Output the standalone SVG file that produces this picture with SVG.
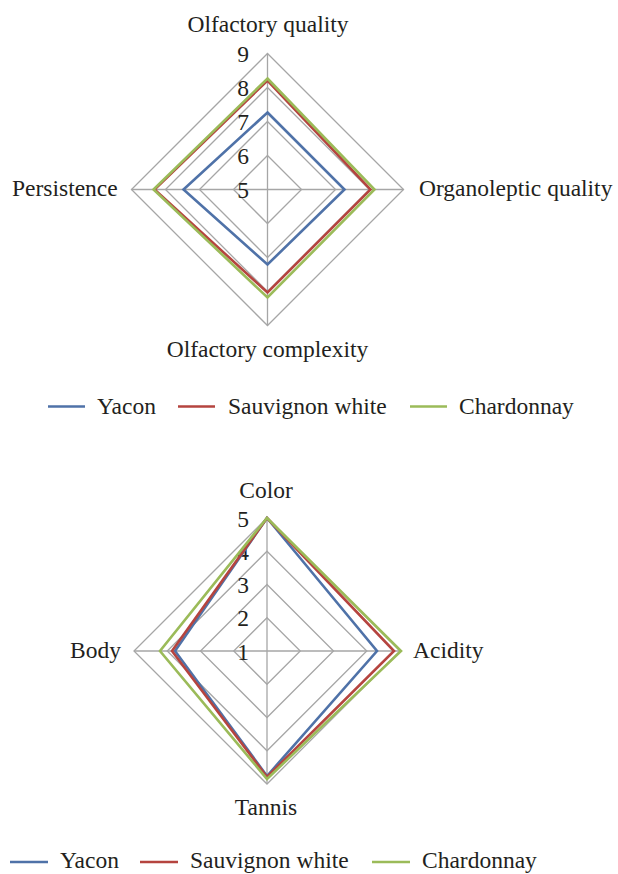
<svg xmlns="http://www.w3.org/2000/svg" width="618" height="874" viewBox="0 0 618 874">
<style>
text{font-family:"Liberation Serif","Times New Roman",serif;font-size:23.5px;fill:#231f20}
.grid{fill:none;stroke:#a6a6a6;stroke-width:1.3}
.s{fill:none;stroke-width:2.6;stroke-linejoin:miter}
.y{stroke:#4f72a8}
.r{stroke:#b5443f}
.g{stroke:#9bbb59}
.num{text-anchor:end}
.mid{text-anchor:middle}
</style>
<rect width="618" height="874" fill="#ffffff"/>
<g id="chart1">
<g id="grid1">
<polygon class="grid" points="267.5,155.5 301.5,189.5 267.5,223.5 233.5,189.5"/>
<polygon class="grid" points="267.5,121.5 335.5,189.5 267.5,257.5 199.5,189.5"/>
<polygon class="grid" points="267.5,87.5 369.5,189.5 267.5,291.5 165.5,189.5"/>
<polygon class="grid" points="267.5,53.5 403.5,189.5 267.5,325.5 131.5,189.5"/>
<line class="grid" x1="267.5" y1="53.5" x2="267.5" y2="325.5"/>
<line class="grid" x1="131.5" y1="189.5" x2="403.5" y2="189.5"/>
</g>
<g id="ticks1">
<text class="num" x="249" y="61.5">9</text>
<text class="num" x="249" y="95.5">8</text>
<text class="num" x="249" y="129.5">7</text>
<text class="num" x="249" y="163.5">6</text>
<text class="num" x="249" y="197.5">5</text>
</g>
<g id="series1">
<polygon class="s y" points="267.5,112.5 344.5,189.5 267.5,264.5 183.5,189.5"/>
<polygon class="s r" points="267.5,80.5 370.5,189.5 267.5,292.5 154.5,189.5"/>
<polygon class="s g" points="267.5,78.5 374.5,189.5 267.5,297.5 153.5,189.5"/>
</g>
<g id="axislabels1">
<text class="mid" x="268" y="31.5">Olfactory quality</text>
<text x="419" y="195.5">Organoleptic quality</text>
<text x="12" y="195.5">Persistence</text>
<text class="mid" x="267.5" y="357">Olfactory complexity</text>
</g>
<g id="legend1">
<line class="s y" x1="48" y1="406.5" x2="85" y2="406.5"/>
<text x="97" y="413.5">Yacon</text>
<line class="s r" x1="178" y1="406.5" x2="215" y2="406.5"/>
<text x="228" y="413.5">Sauvignon white</text>
<line class="s g" x1="410" y1="406.5" x2="447" y2="406.5"/>
<text x="459" y="413.5">Chardonnay</text>
</g>
</g>
<g id="chart2">
<g id="grid2">
<polygon class="grid" points="267,617.75 300.25,651 267,684.25 233.75,651"/>
<polygon class="grid" points="267,584.5 333.5,651 267,717.5 200.5,651"/>
<polygon class="grid" points="267,551.25 366.75,651 267,750.75 167.25,651"/>
<polygon class="grid" points="267,518 400,651 267,784 134,651"/>
<line class="grid" x1="267" y1="518" x2="267" y2="784"/>
<line class="grid" x1="134" y1="651" x2="400" y2="651"/>
</g>
<g id="ticks2">
<text class="num" x="249" y="526.5">5</text>
<text class="num" x="249" y="559.75">4</text>
<text class="num" x="249" y="593">3</text>
<text class="num" x="249" y="626.25">2</text>
<text class="num" x="249" y="659.5">1</text>
</g>
<g id="series2">
<polygon class="s y" points="267,518 377,651 267,776 175,651"/>
<polygon class="s r" points="267,518 394,651 267,777 172,651"/>
<polygon class="s g" points="267,518 401,651 267,779 160,651"/>
</g>
<g id="axislabels2">
<text class="mid" x="266" y="498">Color</text>
<text x="413" y="657.5">Acidity</text>
<text x="70" y="657.5">Body</text>
<text class="mid" x="266" y="815">Tannis</text>
</g>
<g id="legend2">
<line class="s y" x1="10" y1="862" x2="48" y2="862"/>
<text x="60" y="868">Yacon</text>
<line class="s r" x1="140" y1="862" x2="178" y2="862"/>
<text x="190" y="868">Sauvignon white</text>
<line class="s g" x1="372" y1="862" x2="410" y2="862"/>
<text x="422" y="868">Chardonnay</text>
</g>
</g>
</svg>
